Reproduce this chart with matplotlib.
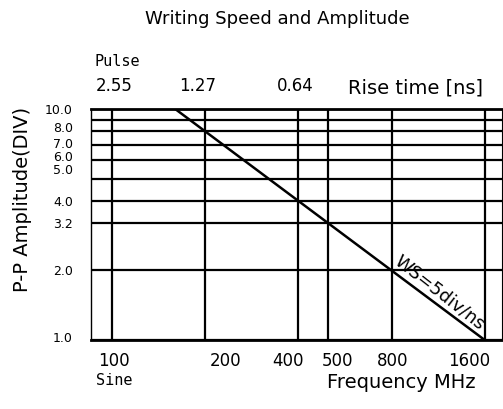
import matplotlib.pyplot as plt
import matplotlib.transforms as mtransforms

# frequency axis (MHz) and amplitude axis (DIV)
freq_ticks = [100, 200, 400, 500, 800, 1600]
freq_labels = ['100', '200', '400', '500', '800', '1600']
rise_ticks = [100, 200, 400]
rise_labels = ['2.55', '1.27', '0.64']
amp_ticks = [1, 2, 3.2, 4, 5, 6, 7, 8, 9, 10]
amp_labels = ['1.0', '2.0', '3.2', '4.0', '5.0', '6.0', '7.0', '8.0', '', '10.0']

# writing speed line WS = 5 div/ns
ws_freq = [160, 1600]
ws_amp = [10, 1]

fig = plt.figure(figsize=(5.03, 4.09), dpi=100)
ax = fig.add_axes([91/503, 69/409, 411/503, 231/409])
ax.set_xscale('log')
ax.set_yscale('log')
ax.set_xlim(85.5, 1820)
ax.set_ylim(1, 10)
ax.minorticks_off()

ax.set_xticks(freq_ticks, freq_labels, fontsize=12)
ax.set_yticks(amp_ticks, amp_labels, fontsize=9)
ax.tick_params(axis='x', length=0, pad=9)
ax.tick_params(axis='y', length=0, pad=13)
ax.grid(True, color='black', lw=1.6)
ax.set_axisbelow(False)

for s in ['top', 'bottom']:
    ax.spines[s].set_linewidth(2)
ax.spines['left'].set_linewidth(1)
ax.spines['right'].set_linewidth(0.8)
ax.spines['right'].set_linestyle((0, (2, 1)))

# nudge crowded labels apart
def shift(labels, offsets, axis):
    for lab, d in zip(labels, offsets):
        if axis == 'x':
            off = mtransforms.ScaledTranslation(d/100, 0, fig.dpi_scale_trans)
        else:
            off = mtransforms.ScaledTranslation(0, d/100, fig.dpi_scale_trans)
        lab.set_transform(lab.get_transform() + off)

shift(ax.get_xticklabels(), [2, 20, -10, 9, 1, -15], 'x')
shift(ax.get_yticklabels(), [3, 0, 0, 0, 9.5, 4, 2, 4, 0, 0], 'y')

ax.plot(ws_freq, ws_amp, color='black', lw=1.8)
ax.text(1140, 1.6, 'WS=5div/ns', rotation=-38, fontsize=13,
        ha='center', va='center', rotation_mode='anchor')

# rise time scale on top
top = ax.secondary_xaxis('top')
top.set_xticks(rise_ticks, rise_labels, fontsize=12)
top.minorticks_off()
top.tick_params(length=0, pad=10)
top.spines['top'].set_visible(False)
shift(top.get_xticklabels(), [2, -8, -3], 'x')

ax.text(0.625, 1.0, 'Rise time [ns]', transform=ax.transAxes, fontsize=14,
        ha='left', va='bottom').set_transform(
        ax.transAxes + mtransforms.ScaledTranslation(0, 0.11, fig.dpi_scale_trans))
ax.text(88, 10, 'Pulse', fontsize=11, family='DejaVu Sans Mono', ha='left',
        va='bottom').set_transform(
        ax.transData + mtransforms.ScaledTranslation(0, 0.40, fig.dpi_scale_trans))
ax.text(88.5, 1, 'Sine', fontsize=11, family='DejaVu Sans Mono', ha='left',
        va='top').set_transform(
        ax.transData + mtransforms.ScaledTranslation(0, -0.33, fig.dpi_scale_trans))
ax.text(0.575, 0, 'Frequency MHz', transform=ax.transAxes, fontsize=14,
        ha='left', va='top').set_transform(
        ax.transAxes + mtransforms.ScaledTranslation(0, -0.33, fig.dpi_scale_trans))

ax.set_ylabel('P-P Amplitude(DIV)', fontsize=14)
ax.yaxis.set_label_coords(-0.144, 0.61)
fig.text(277/503, 1 - 19/409, 'Writing Speed and Amplitude', fontsize=13,
         ha='center', va='center')

fig.savefig('out.png', dpi=100)
